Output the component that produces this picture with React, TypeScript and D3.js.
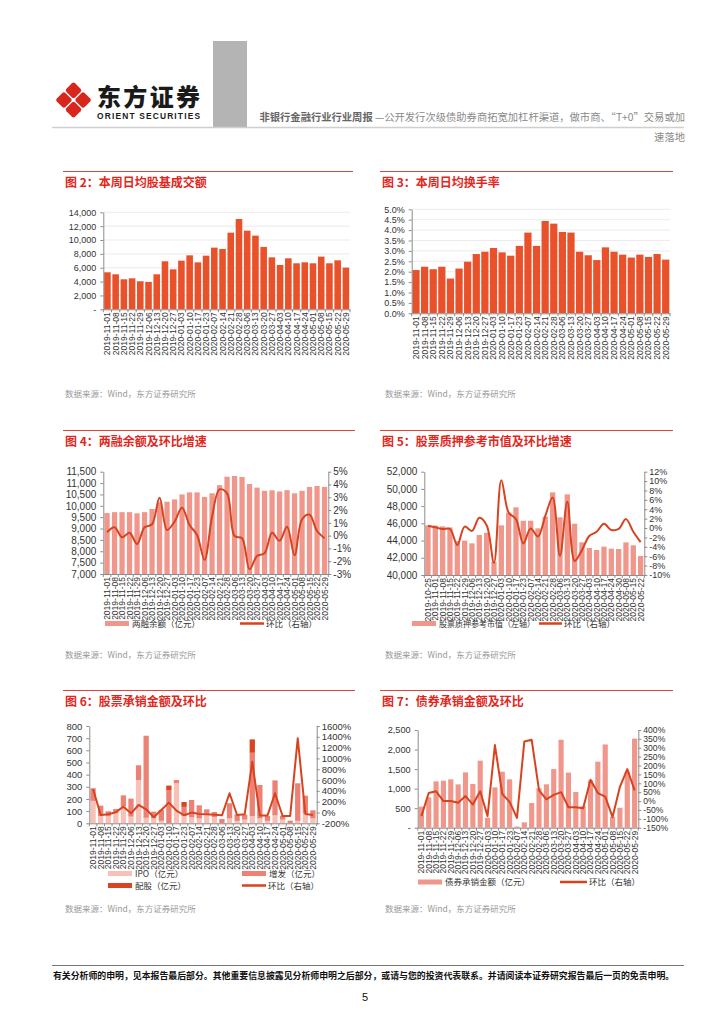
import * as d3 from "d3";
import { useEffect, useRef } from "react";

const FONT = "'Liberation Sans', Arial, 'Noto Sans CJK SC', sans-serif";
const CJK = "'Noto Sans CJK SC', 'Liberation Sans', sans-serif";

const RED = "#E2261C";
const BAR_DARK = "#E9512A";
const BAR_LIGHT = "#F0968A";
const LINE = "#D8431F";
const IPO_C = "#F7C1B8";
const ZF_C = "#EC8275";
const PG_C = "#DA4421";

// weekly dates
const weeks = [
    "2019-11-01", "2019-11-08", "2019-11-15", "2019-11-22", "2019-11-29", "2019-12-06",
    "2019-12-13", "2019-12-20", "2019-12-27", "2020-01-03", "2020-01-10", "2020-01-17",
    "2020-01-23", "2020-02-07", "2020-02-14", "2020-02-21", "2020-02-28", "2020-03-06",
    "2020-03-13", "2020-03-20", "2020-03-27", "2020-04-03", "2020-04-10", "2020-04-17",
    "2020-04-24", "2020-05-01", "2020-05-08", "2020-05-15", "2020-05-22", "2020-05-29",
];
const weeksPledge = [
    "2019-10-25", "2019-11-01", "2019-11-08", "2019-11-15", "2019-11-22", "2019-11-29",
    "2019-12-06", "2019-12-13", "2019-12-20", "2019-12-27", "2020-01-03", "2020-01-10",
    "2020-01-17", "2020-01-23", "2020-02-07", "2020-02-14", "2020-02-21", "2020-02-28",
    "2020-03-06", "2020-03-13", "2020-03-20", "2020-03-27", "2020-04-03", "2020-04-10",
    "2020-04-17", "2020-04-24", "2020-04-30", "2020-05-08", "2020-05-15", "2020-05-22",
];

// 图2 日均股基成交额（亿元）
const turnover = [5340, 5050, 4330, 4470, 4040, 3940, 5050, 6930, 5770, 7020, 7790, 6780, 7740, 8900, 8710,
    11060, 13030, 11350, 10630, 9000, 7500, 6400, 7360, 6640, 6780, 6640, 7600, 6640, 7070, 6010];
// 图3 日均换手率（%）
const turnoverRate = [2.08, 2.24, 2.12, 2.24, 1.67, 2.15, 2.48, 2.85, 2.96, 3.14, 2.93, 2.77, 3.24, 3.88, 3.24,
    4.44, 4.31, 3.91, 3.88, 2.96, 2.79, 2.56, 3.17, 2.96, 2.82, 2.68, 2.82, 2.71, 2.85, 2.58];
// 图4 两融余额（亿元）及环比（%）
const marginBal = [9680, 9720, 9720, 9720, 9670, 9720, 9860, 10150, 10180, 10280, 10500, 10590, 10590, 10390, 10550,
    10910, 11280, 11310, 11270, 10960, 10800, 10660, 10680, 10630, 10690, 10550, 10660, 10830, 10870, 10830];
const marginPct = [0.26, 0.65, -0.13, 0.23, -0.65, 0.65, 0.89, 2.97, 0.44, 1.1, 2.19, 0.83, 0.05, -1.9, 1.48,
    3.62, 3.3, -0.03, -0.2, -2.63, -1.59, -1.38, 0.23, -0.4, 0.7, -1.54, 1.28, 1.64, 0.36, -0.2];
// 图5 股票质押参考市值（亿元）及环比（%）
const pledgeVal = [45770, 45750, 45650, 45530, 43940, 43990, 43680, 44650, 44900, 41530, 45770, 47240, 47860, 46300, 46300,
    45420, 46780, 49600, 46700, 49370, 45960, 43790, 43140, 42900, 43290, 43060, 43020, 43790, 43450, 42210];
const pledgePct = [0.5, 0.15, -0.2, -0.2, -3.6, 0.3, -0.6, 2.2, 0.6, -7.4, 10.2, 3.3, 1.9, -3.3, -0.1,
    -1.8, 2.6, 6.5, -5.9, 5.6, -7.0, -4.7, -1.7, -0.8, 0.9, -0.4, -0.2, 1.9, -0.8, -3.0];
// 图6 股票承销（亿元）及环比（%）
const ipoAmt = [184, 60, 60, 85, 140, 55, 355, 45, 40, 20, 0, 330, 60, 50, 40,
    80, 50, 0, 40, 20, 30, 60, 40, 20, 65, 30, 0, 20, 80, 40];
const seoAmt = [104, 85, 39, 33, 90, 148, 122, 675, 56, 90, 270, 26, 75, 142, 108,
    35, 43, 36, 125, 54, 41, 520, 275, 40, 288, 33, 22, 309, 147, 67];
const rightsAmt = [0, 0, 0, 0, 0, 0, 0, 0, 0, 0, 40, 0, 40, 0, 0,
    0, 0, 0, 0, 0, 0, 110, 0, 0, 0, 0, 0, 0, 0, 0];
const equityPct = [435, -46, -33, 4, 108, -15, 139, 59, -89, 47, 182, 34, -51, -2, -27,
    -33, -40, -52, 356, -46, -33, 940, -58, -58, 356, -64, -64, 1372, -27, -46];
// 图7 债券承销金额（亿元）及环比（%）
const bondAmt = [538, 776, 1186, 1203, 1237, 1109, 1416, 1118, 1715, 256, 1032, 1433, 1237, 30, 137,
    631, 1010, 1110, 1500, 2250, 1410, 915, 550, 1210, 1690, 2130, 280, 510, 1430, 2280];
const bondPct = [-85, 45, 55, 0, 0, -10, 28, -20, 55, -85, 315, 40, -5, -95, 335,
    345, 60, 10, 35, 50, -35, -35, -40, 120, 45, 25, -90, 80, 180, 60];

const comma = d3.format(",");
const dashZero = (d: number) => (d === 0 ? "-" : comma(d));
const pct = (d: number) => `${d}%`;
const range = (a: number, b: number, s: number) => d3.range(a, b + s / 2, s);

function YAxis({ scale, side, at, ticks, fmt, fs }: any) {
    const ref = useRef<SVGGElement | null>(null);
    useEffect(() => {
        const g = d3.select(ref.current);
        g.selectAll("*").remove();
        const ax = (side === "left" ? d3.axisLeft(scale) : d3.axisRight(scale))
            .tickValues(ticks).tickFormat(fmt).tickSize(3).tickSizeOuter(0).tickPadding(side === "left" ? 4 : 2);
        g.call(ax as any);
        g.attr("font-family", FONT).attr("font-size", fs);
        g.select(".domain").attr("stroke", "#8c8c8c");
        g.selectAll(".tick line").attr("stroke", "#8c8c8c");
        g.selectAll(".tick text").attr("fill", "#333");
    });
    return <g ref={ref} transform={`translate(${at},0)`} />;
}

function XAxis({ scale, at, fs }: any) {
    const ref = useRef<SVGGElement | null>(null);
    useEffect(() => {
        const g = d3.select(ref.current);
        g.selectAll("*").remove();
        g.call(d3.axisBottom(scale).tickSize(0).tickSizeOuter(0) as any);
        g.attr("font-family", FONT).attr("font-size", fs);
        g.select(".domain").attr("stroke", "#8c8c8c");
        g.selectAll(".tick text")
            .attr("fill", "#333")
            .attr("transform", "rotate(-90)")
            .attr("text-anchor", "end")
            .attr("x", -3)
            .attr("y", 0)
            .attr("dy", "0.35em");
        const half = (scale.step() - scale.bandwidth()) / 2;
        const bounds = scale.domain().map((c: string) => scale(c) - half).concat([scale.range()[1]]);
        g.selectAll(".bt").data(bounds).join("line").attr("class", "bt")
            .attr("x1", (d: number) => d).attr("x2", (d: number) => d)
            .attr("y1", 0).attr("y2", 3).attr("stroke", "#8c8c8c");
    });
    return <g ref={ref} transform={`translate(0,${at})`} />;
}

type Stack = { key: string; values: number[]; color: string };

function Chart(p: {
    cats: string[]; x0: number; x1: number; yTop: number; yBottom: number;
    stacks: Stack[]; leftDomain: [number, number]; leftTicks: number[]; leftFmt: (d: number) => string;
    rightDomain?: [number, number]; rightTicks?: number[]; rightFmt?: (d: number) => string;
    line?: number[]; smooth?: boolean; padding: number; grid?: boolean; fs: number; rfs?: number;
}) {
    const x = d3.scaleBand().domain(p.cats).range([p.x0, p.x1]).paddingInner(p.padding).paddingOuter(p.padding / 2);
    const yL = d3.scaleLinear().domain(p.leftDomain).range([p.yBottom, p.yTop]).clamp(true);
    const yR = p.rightDomain ? d3.scaleLinear().domain(p.rightDomain).range([p.yBottom, p.yTop]) : null;
    const rows = p.cats.map((c, i) => {
        const r: any = { cat: c };
        p.stacks.forEach((s) => (r[s.key] = s.values[i]));
        return r;
    });
    const series = d3.stack<any>().keys(p.stacks.map((s) => s.key))(rows);
    const bw = x.bandwidth();
    const linePath = p.line && yR
        ? d3.line<number>()
            .x((_, i) => (x(p.cats[i]) ?? 0) + bw / 2)
            .y((d) => yR(d))
            .curve(p.smooth ? d3.curveCatmullRom.alpha(0.5) : d3.curveLinear)(p.line)
        : null;
    return (
        <g>
            {p.grid && p.leftTicks.filter((t) => t !== p.leftDomain[0]).map((t) => (
                <line key={t} x1={p.x0} x2={p.x1} y1={yL(t)} y2={yL(t)} stroke="#e6e6e6" strokeWidth={0.8} />
            ))}
            {series.map((s, si) => (
                <g key={s.key} fill={p.stacks[si].color}>
                    {s.map((d, i) => {
                        const top = yL(d[1]);
                        const bot = yL(d[0]);
                        if (bot - top <= 0) return null;
                        return <rect key={i} x={x(p.cats[i])} y={top} width={bw} height={bot - top} />;
                    })}
                </g>
            ))}
            {linePath && <path d={linePath} fill="none" stroke={LINE} strokeWidth={2} strokeLinejoin="round" />}
            <XAxis scale={x} at={p.yBottom} fs={8.5} />
            <YAxis scale={yL} side="left" at={p.x0} ticks={p.leftTicks} fmt={p.leftFmt} fs={p.fs} />
            {yR && <YAxis scale={yR} side="right" at={p.x1} ticks={p.rightTicks} fmt={p.rightFmt} fs={p.rfs ?? p.fs} />}
        </g>
    );
}

function Panel({ x0, x1, y, title }: { x0: number; x1: number; y: number; title: string }) {
    return (
        <g>
            <line x1={x0} x2={x1} y1={y} y2={y} stroke="#E0443A" strokeWidth={1} />
            <text x={x0 + 2} y={y + 15} fill={RED} fontSize={12} fontWeight="bold" fontFamily={CJK}>{title}</text>
        </g>
    );
}

function Source({ x, y }: { x: number; y: number }) {
    return <text x={x} y={y} fill="#999" fontSize={8.5} fontFamily={CJK}>数据来源：Wind，东方证券研究所</text>;
}

function LegendBar({ x, y, color, label, fs = 8.5 }: any) {
    return (
        <g>
            <rect x={x} y={y - 2.5} width={24} height={5} fill={color} />
            <text x={x + 27} y={y + 3.2} fill="#333" fontSize={fs} fontFamily={CJK}>{label}</text>
        </g>
    );
}
function LegendLine({ x, y, label, w = 24 }: any) {
    return (
        <g>
            <line x1={x} x2={x + w} y1={y} y2={y} stroke={LINE} strokeWidth={2.5} />
            <text x={x + w + 2} y={y + 3.2} fill="#333" fontSize={8.5} fontFamily={CJK}>{label}</text>
        </g>
    );
}

function Logo() {
    const cx = 73.5, cy = 100, d = 9.6, s = 12.2;
    const spots = [[0, -d], [d, 0], [0, d], [-d, 0]];
    return (
        <g>
            {spots.map(([dx, dy], i) => (
                <rect key={i} x={-s / 2} y={-s / 2} width={s} height={s} rx={2.2} fill="#D9261C"
                    transform={`translate(${cx + dx},${cy + dy}) rotate(45)`} />
            ))}
            <text x={97} y={105.5} fontSize={24} fontWeight={900} fill="#1a1a1a" fontFamily={CJK} textLength={103}>东方证券</text>
            <text x={97} y={118.5} fontSize={8.4} fontWeight="bold" fill="#1a1a1a" fontFamily={FONT} textLength={103}>ORIENT SECURITIES</text>
        </g>
    );
}

export default function App() {
    return (
        <div style={{ position: "absolute", left: 0, top: 0 }}>
            <svg width={724} height={1024} style={{ display: "block", background: "#fff" }}>
                <rect width={724} height={1024} fill="#fff" />
                {/* header */}
                <Logo />
                <rect x={213} y={41} width={34} height={86} fill="#b4b4b4" />
                <line x1={52} x2={684} y1={127.5} y2={127.5} stroke="#cfcfcf" strokeWidth={1.5} />
                <text x={685} y={121} textAnchor="end" fontSize={10.3} fill="#8a8a8a" fontFamily={CJK}>
                    <tspan fontWeight="bold" fill="#666">非银行金融行业行业周报</tspan> —公开发行次级债助券商拓宽加杠杆渠道，做市商、“T+0”交易或加
                </text>
                <text x={685} y={141} textAnchor="end" fontSize={10.3} fill="#8a8a8a" fontFamily={CJK}>速落地</text>

                {/* row 1 */}
                <Panel x0={63} x1={353} y={171.5} title="图 2：本周日均股基成交额" />
                <Chart cats={weeks} x0={103.3} x1={350} yTop={212.3} yBottom={309.3}
                    stacks={[{ key: "v", values: turnover, color: BAR_DARK }]}
                    leftDomain={[0, 14000]} leftTicks={range(0, 14000, 2000)} leftFmt={dashZero}
                    padding={0.2} grid fs={9} />
                <Source x={65} y={396.5} />

                <Panel x0={380} x1={673} y={171.5} title="图 3：本周日均换手率" />
                <Chart cats={weeks} x0={411.7} x1={670} yTop={209.3} yBottom={313.3}
                    stacks={[{ key: "v", values: turnoverRate, color: BAR_DARK }]}
                    leftDomain={[0, 5]} leftTicks={range(0, 5, 0.5)} leftFmt={(d) => `${d.toFixed(1)}%`}
                    padding={0.16} grid fs={9} />
                <Source x={385} y={396.5} />

                {/* row 2 */}
                <Panel x0={63} x1={355} y={430.5} title="图 4：两融余额及环比增速" />
                <Chart cats={weeks} x0={103.3} x1={328.3} yTop={471.7} yBottom={574}
                    stacks={[{ key: "v", values: marginBal, color: BAR_LIGHT }]}
                    leftDomain={[7000, 11500]} leftTicks={range(7000, 11500, 500)} leftFmt={comma}
                    rightDomain={[-3, 5]} rightTicks={range(-3, 5, 1)} rightFmt={pct}
                    line={marginPct} smooth padding={0.3} fs={10} />
                <LegendBar x={105} y={623.5} color={BAR_LIGHT} label="两融余额（亿元）" />
                <LegendLine x={240} y={623.5} label="环比（右轴）" />
                <Source x={65} y={657.5} />

                <Panel x0={380} x1={673} y={430.5} title="图 5：股票质押参考市值及环比增速" />
                <Chart cats={weeksPledge} x0={424.3} x1={644.3} yTop={471.7} yBottom={575}
                    stacks={[{ key: "v", values: pledgeVal, color: BAR_LIGHT }]}
                    leftDomain={[40000, 52000]} leftTicks={range(40000, 52000, 2000)} leftFmt={comma}
                    rightDomain={[-10, 12]} rightTicks={range(-10, 12, 2)} rightFmt={pct}
                    line={pledgePct} smooth padding={0.28} fs={10} rfs={9} />
                <LegendBar x={412} y={623.5} color={BAR_LIGHT} label="股票质押参考市值（左轴）" fs={8} />
                <LegendLine x={539} y={623.5} label="环比（右轴）" w={23} />
                <Source x={385} y={657.5} />

                {/* row 3 */}
                <Panel x0={63} x1={355} y={690.5} title="图 6：股票承销金额及环比" />
                <Chart cats={weeks} x0={89.3} x1={316.7} yTop={726} yBottom={823.3}
                    stacks={[
                        { key: "ipo", values: ipoAmt, color: IPO_C },
                        { key: "seo", values: seoAmt, color: ZF_C },
                        { key: "rights", values: rightsAmt, color: PG_C },
                    ]}
                    leftDomain={[0, 800]} leftTicks={range(0, 800, 100)} leftFmt={(d) => `${d}`}
                    rightDomain={[-200, 1600]} rightTicks={range(-200, 1600, 200)} rightFmt={pct}
                    line={equityPct} padding={0.3} fs={9.5} />
                <LegendBar x={108} y={873.5} color={IPO_C} label="IPO（亿元）" />
                <LegendBar x={242} y={873.5} color={ZF_C} label="增发（亿元）" />
                <LegendBar x={108} y={885.5} color={PG_C} label="配股（亿元）" />
                <LegendLine x={242} y={885.5} label="环比（右轴）" />
                <Source x={65} y={912} />

                <Panel x0={380} x1={673} y={690.5} title="图 7：债券承销金额及环比" />
                <Chart cats={weeks} x0={417.7} x1={638.3} yTop={730} yBottom={827.7}
                    stacks={[{ key: "v", values: bondAmt, color: BAR_LIGHT }]}
                    leftDomain={[0, 2500]} leftTicks={range(0, 2500, 500)} leftFmt={dashZero}
                    rightDomain={[-150, 400]} rightTicks={range(-150, 400, 50)} rightFmt={pct}
                    line={bondPct} padding={0.3} fs={9.2} rfs={8.6} />
                <LegendBar x={418} y={882} color={BAR_LIGHT} label="债券承销金额（亿元）" />
                <LegendLine x={560} y={882} label="环比（右轴）" w={27} />
                <Source x={385} y={912} />

                {/* footer */}
                <line x1={52} x2={684} y1={965.5} y2={965.5} stroke="#555" strokeWidth={0.8} />
                <text x={53} y={979} fontSize={8.9} fontWeight="bold" fill="#111" fontFamily={CJK}>
                    有关分析师的申明，见本报告最后部分。其他重要信息披露见分析师申明之后部分，或请与您的投资代表联系。并请阅读本证券研究报告最后一页的免责申明。
                </text>
                <text x={365} y={1001} textAnchor="middle" fontSize={11} fill="#111" fontFamily={FONT}>5</text>
            </svg>
        </div>
    );
}
